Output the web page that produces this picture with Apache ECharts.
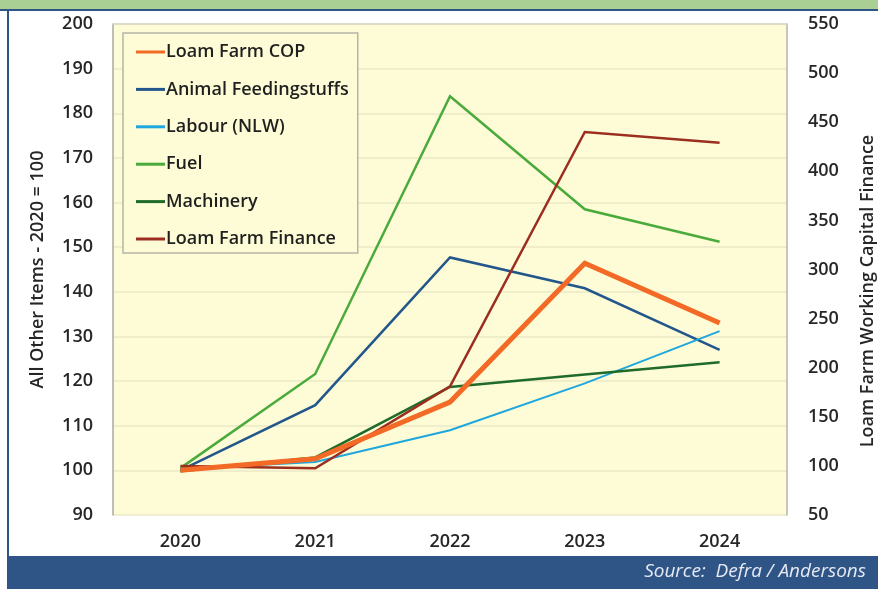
<!DOCTYPE html>
<html>
<head>
<meta charset="utf-8">
<script src="https://cdn.jsdelivr.net/npm/echarts@6/dist/echarts.min.js"></script>
<style>
  html, body { margin: 0; padding: 0; background: #ffffff; }
  #chart { width: 878px; height: 589px; }
</style>
</head>
<body>
<div id="chart"></div>
<script>
// Years on the category axis
const years = ['2020', '2021', '2022', '2023', '2024'];

// Cost indices, 2020 = 100 (left axis)
const loamFarmCop = [100, 102.6, 115.3, 146.4, 133.0];
const animalFeedingstuffs = [100, 114.6, 147.7, 140.8, 127.0];
const labourNlw = [100.3, 101.9, 109.0, 119.5, 131.2];
const fuel = [100.5, 121.6, 183.8, 158.5, 151.2];
const machinery = [99.8, 102.9, 118.7, 121.5, 124.2];

// Working capital finance (right axis)
const loamFarmFinance = [100, 97.5, 181, 440, 429];

const seriesNames = ['Loam Farm COP', 'Animal Feedingstuffs', 'Labour (NLW)', 'Fuel', 'Machinery', 'Loam Farm Finance'];

const chart = echarts.init(document.getElementById('chart'), null, { renderer: 'canvas' });

const labelFont = { color: '#262626', fontSize: 18, fontWeight: 600, fontFamily: 'Open Sans' };

function lineSeries(name, data, color, width, yAxisIndex, z) {
  return {
    name: name,
    type: 'line',
    data: data,
    yAxisIndex: yAxisIndex,
    symbol: 'none',
    z: z,
    lineStyle: { color: color, width: width, join: 'miter' },
    itemStyle: { color: color }
  };
}

chart.setOption({
  animation: false,
  backgroundColor: '#ffffff',
  grid: {
    left: 113, right: 91, top: 24, bottom: 74,
    show: true,
    backgroundColor: '#fdfcd6',
    borderWidth: 0
  },
  legend: {
    orient: 'vertical',
    left: 123,
    top: 33,
    data: seriesNames,
    icon: 'rect',
    itemWidth: 29,
    itemHeight: 3,
    itemGap: 17.4,
    padding: [9, 9, 4, 13],
    backgroundColor: '#fdfcd6',
    borderColor: '#b4b4a8',
    borderWidth: 1.5,
    textStyle: {
      color: '#1f1f1f', fontSize: 18, fontWeight: 600, fontFamily: 'Open Sans',
      lineHeight: 20, padding: [0, 0, 0, -4]
    }
  },
  xAxis: [{
    type: 'category',
    data: years,
    boundaryGap: true,
    axisLine: { show: false },
    axisTick: { show: false },
    axisLabel: Object.assign({ margin: 18 }, labelFont),
    splitLine: { show: false }
  }, {
    type: 'category',
    position: 'top',
    data: years,
    axisLine: { show: true, lineStyle: { color: '#d6d6c8', width: 1.5 } },
    axisTick: { show: false },
    axisLabel: { show: false }
  }],
  yAxis: [{
    type: 'value',
    min: 90, max: 200, interval: 10,
    position: 'left',
    axisLine: { show: true, lineStyle: { color: '#a8a8a4', width: 1.5 } },
    axisTick: { show: false },
    axisLabel: Object.assign({ margin: 20 }, labelFont),
    splitLine: { show: true, lineStyle: { color: '#ebeac6', width: 1.5 } },
    name: 'All Other Items - 2020 = 100',
    nameLocation: 'middle',
    nameGap: 66,
    nameRotate: 90,
    nameTextStyle: { color: '#262626', fontSize: 18, fontWeight: 600, fontFamily: 'Open Sans' }
  }, {
    type: 'value',
    min: 50, max: 550, interval: 50,
    position: 'right',
    axisLine: { show: true, lineStyle: { color: '#b4b4ac', width: 1.5 } },
    axisTick: { show: false },
    axisLabel: Object.assign({ margin: 21 }, labelFont),
    splitLine: { show: false }
  }],
  series: [
    lineSeries(seriesNames[0], loamFarmCop, '#f26a25', 5, 0, 8),
    lineSeries(seriesNames[1], animalFeedingstuffs, '#23578c', 2.5, 0, 3),
    lineSeries(seriesNames[2], labourNlw, '#1ea6de', 2, 0, 3),
    lineSeries(seriesNames[3], fuel, '#4aaa3c', 2.5, 0, 3),
    lineSeries(seriesNames[4], machinery, '#1f6b2a', 2.5, 0, 4),
    lineSeries(seriesNames[5], loamFarmFinance, '#9c2e20', 2.5, 1, 5)
  ],
  graphic: [
    // top green band and rule
    { type: 'rect', left: 0, top: 0, shape: { width: 878, height: 9 }, style: { fill: '#a9cf95' }, silent: true },
    { type: 'rect', left: 0, top: 9, shape: { width: 878, height: 2 }, style: { fill: '#2f5486' }, silent: true },
    // left frame rule
    { type: 'rect', left: 7, top: 9, shape: { width: 2, height: 548 }, style: { fill: '#2f5486' }, silent: true },
    // footer band with source note
    { type: 'rect', left: 7, top: 556, shape: { width: 871, height: 33 }, style: { fill: '#2f5486' }, silent: true },
    {
      type: 'text', right: 12, top: 562,
      style: {
        text: 'Source:  Defra / Andersons',
        fill: '#e6eaf2', fontSize: 19, fontStyle: 'italic', fontFamily: 'Open Sans'
      },
      silent: true
    },
    // right axis title
    {
      type: 'text', x: 868, y: 291, rotation: Math.PI / 2,
      style: {
        text: 'Loam Farm Working Capital Finance',
        fill: '#262626', fontSize: 18, fontWeight: 600, fontFamily: 'Open Sans',
        align: 'center', verticalAlign: 'middle'
      },
      silent: true
    }
  ]
});
</script>
</body>
</html>
